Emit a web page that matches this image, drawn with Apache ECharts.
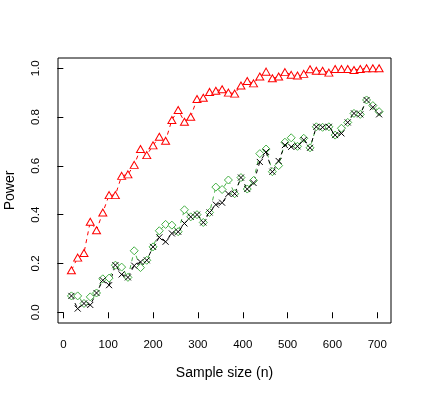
<!DOCTYPE html>
<html>
<head>
<meta charset="utf-8">
<script src="https://cdn.jsdelivr.net/npm/echarts@6/dist/echarts.min.js"></script>
<style>
  html, body { margin: 0; padding: 0; background: #fff; }
  #chart { width: 423px; height: 395px; }
</style>
</head>
<body>
<div id="chart"></div>
<script>
// sample sizes (x)
var sampleSize = [18, 32, 46, 60, 74, 88, 102, 116, 130, 144, 158, 172, 186, 200, 214, 228, 242, 256, 270, 284,
  298, 312, 326, 340, 354, 368, 382, 396, 410, 424, 438, 452, 466, 480, 494, 508, 522, 536, 550, 564,
  578, 592, 606, 620, 634, 648, 662, 676, 690, 704];

// power, red triangles
var powerRed = [0.172, 0.224, 0.243, 0.371, 0.336, 0.409, 0.480, 0.480, 0.559, 0.565,
  0.604, 0.669, 0.644, 0.684, 0.719, 0.703, 0.788, 0.829, 0.781, 0.801,
  0.874, 0.879, 0.903, 0.908, 0.914, 0.900, 0.896, 0.929, 0.948, 0.938,
  0.966, 0.986, 0.959, 0.966, 0.984, 0.973, 0.970, 0.977, 0.996, 0.990,
  0.990, 0.982, 0.997, 0.997, 0.997, 0.993, 0.997, 1.0, 1.0, 1.0];

// power, green diamonds
var powerGreen = [0.067, 0.067, 0.036, 0.063, 0.079, 0.137, 0.140, 0.193, 0.185, 0.143,
  0.252, 0.183, 0.213, 0.268, 0.334, 0.360, 0.357, 0.330, 0.420, 0.391,
  0.400, 0.368, 0.409, 0.513, 0.503, 0.542, 0.486, 0.552, 0.505, 0.540,
  0.650, 0.669, 0.576, 0.601, 0.697, 0.715, 0.680, 0.713, 0.674, 0.760,
  0.758, 0.760, 0.726, 0.754, 0.778, 0.815, 0.811, 0.870, 0.847, 0.822];

// power, black crosses
var powerBlack = [0.067, 0.015, 0.036, 0.030, 0.079, 0.131, 0.111, 0.193, 0.155, 0.143,
  0.191, 0.206, 0.213, 0.268, 0.307, 0.289, 0.323, 0.330, 0.364, 0.391,
  0.400, 0.368, 0.409, 0.441, 0.449, 0.485, 0.486, 0.552, 0.505, 0.530,
  0.616, 0.657, 0.576, 0.620, 0.685, 0.678, 0.680, 0.706, 0.674, 0.760,
  0.758, 0.760, 0.726, 0.733, 0.778, 0.815, 0.811, 0.870, 0.840, 0.811];

var xTicks = [0, 100, 200, 300, 400, 500, 600, 700];
var yTicks = [0, 0.2, 0.4, 0.6, 0.8, 1.0];

function pairs(ys) {
  return sampleSize.map(function (x, i) { return [x, ys[i]]; });
}

var font = 'Liberation Sans, Arial, sans-serif';

function series(name, data, color, symbol, size, fill) {
  return {
    name: name,
    type: 'line',
    data: pairs(data),
    symbol: symbol,
    symbolSize: size,
    showSymbol: true,
    lineStyle: { color: color, width: 1, type: [4, 4] },
    itemStyle: { color: fill, borderColor: color, borderWidth: 1 },
    emphasis: { disabled: true },
    animation: false
  };
}

var chart = echarts.init(document.getElementById('chart'));
chart.setOption({
  backgroundColor: '#fff',
  animation: false,
  grid: {
    left: 58, right: 32, top: 58, bottom: 72,
    outerBoundsMode: 'none',
    show: true, borderColor: '#000', borderWidth: 1
  },
  xAxis: {
    type: 'value',
    min: -11.9,
    max: 730.5,
    name: 'Sample size (n)',
    nameLocation: 'middle',
    nameGap: 43,
    nameTextStyle: { color: '#000', fontSize: 14, fontFamily: font },
    axisLine: { show: false },
    splitLine: { show: false },
    axisTick: { show: true, inside: false, length: 6, lineStyle: { color: '#000' }, customValues: xTicks },
    axisLabel: { color: '#000', fontSize: 11.5, fontFamily: font, margin: 16, customValues: xTicks }
  },
  yAxis: {
    type: 'value',
    min: -0.044,
    max: 1.042,
    name: 'Power',
    nameLocation: 'middle',
    nameGap: 41,
    nameRotate: 90,
    nameTextStyle: { color: '#000', fontSize: 14, fontFamily: font },
    axisLine: { show: false },
    splitLine: { show: false },
    axisTick: { show: true, inside: false, length: 6, lineStyle: { color: '#000' }, customValues: yTicks },
    axisLabel: {
      color: '#000', fontSize: 11.5, fontFamily: font, margin: 16, rotate: 90,
      customValues: yTicks,
      formatter: function (v) { return v.toFixed(1); }
    }
  },
  series: [
    series('red', powerRed, '#ff0000', 'triangle', [8, 7], '#fff'),
    series('green', powerGreen, '#45b045', 'diamond', 8, '#fff'),
    series('black', powerBlack, '#000', 'path://M0,0L10,10M10,0L0,10', 6, 'none')
  ]
});
</script>
</body>
</html>
